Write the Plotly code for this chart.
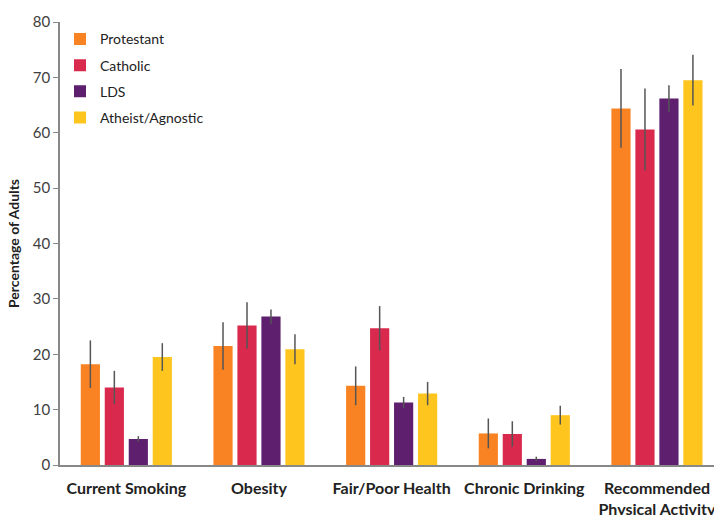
import plotly.graph_objects as go

categories = ["Current Smoking", "Obesity", "Fair/Poor Health", "Chronic Drinking",
              "Recommended<br>Physical Activity"]
series_names = ["Protestant", "Catholic", "LDS", "Atheist/Agnostic"]
protestant = [18.2, 21.5, 14.3, 5.7, 64.4]
catholic = [14.0, 25.2, 24.7, 5.6, 60.6]
lds = [4.7, 26.8, 11.3, 1.1, 66.2]
atheist = [19.5, 20.9, 12.9, 9.0, 69.5]
protestant_err = [4.3, 4.3, 3.5, 2.7, 7.1]
catholic_err = [3.0, 4.2, 4.0, 2.3, 7.4]
lds_err = [0.5, 1.3, 1.0, 0.4, 2.4]
atheist_err = [2.5, 2.7, 2.1, 1.7, 4.6]
colors = ["#F98322", "#D92A4E", "#5E1F6E", "#FFC51F"]
y_ticks = [0, 10, 20, 30, 40, 50, 60, 70, 80]

values = [protestant, catholic, lds, atheist]
errs = [protestant_err, catholic_err, lds_err, atheist_err]

fig = go.Figure()
for name, v, e, c in zip(series_names, values, errs, colors):
    fig.add_trace(go.Bar(
        name=name, legendgroup=name, x=categories, y=v,
        marker=dict(color=c, line=dict(width=0)),
        error_y=dict(type="data", array=e, visible=True, color="#555555",
                     thickness=1.5, width=0),
    ))

font_family = "Lato, 'Open Sans', sans-serif"
fig.update_layout(
    width=714, height=515,
    margin=dict(l=60, r=0, t=22, b=50),
    paper_bgcolor="white", plot_bgcolor="white",
    barmode="group", bargap=0.277, bargroupgap=0.2,
    font=dict(family=font_family, size=14, color="#333333"),
    legend=dict(x=0.0, y=0.997, xanchor="left", yanchor="top",
                bgcolor="rgba(0,0,0,0)", font=dict(size=14, color="#222222"),
                itemwidth=30, traceorder="grouped", tracegroupgap=5),
    xaxis=dict(range=[-0.5, 4.43], showline=True, linecolor="#888888", linewidth=1.5,
               ticks="", showgrid=False, ticklabelstandoff=8, automargin=False,
               tickfont=dict(family=font_family, size=16, color="#222222", weight="bold")),
    yaxis=dict(range=[0, 80], tickvals=y_ticks, showline=True, linecolor="#888888",
               linewidth=1.5, ticks="outside", ticklen=5, tickcolor="#888888",
               showgrid=False, zeroline=False, automargin=False,
               tickfont=dict(size=15, color="#404040"),
               title=dict(text="Percentage of Adults", standoff=10,
                          font=dict(family=font_family, size=14, color="#222222", weight="bold"))),
    showlegend=True,
)

fig.write_html("out.html")
